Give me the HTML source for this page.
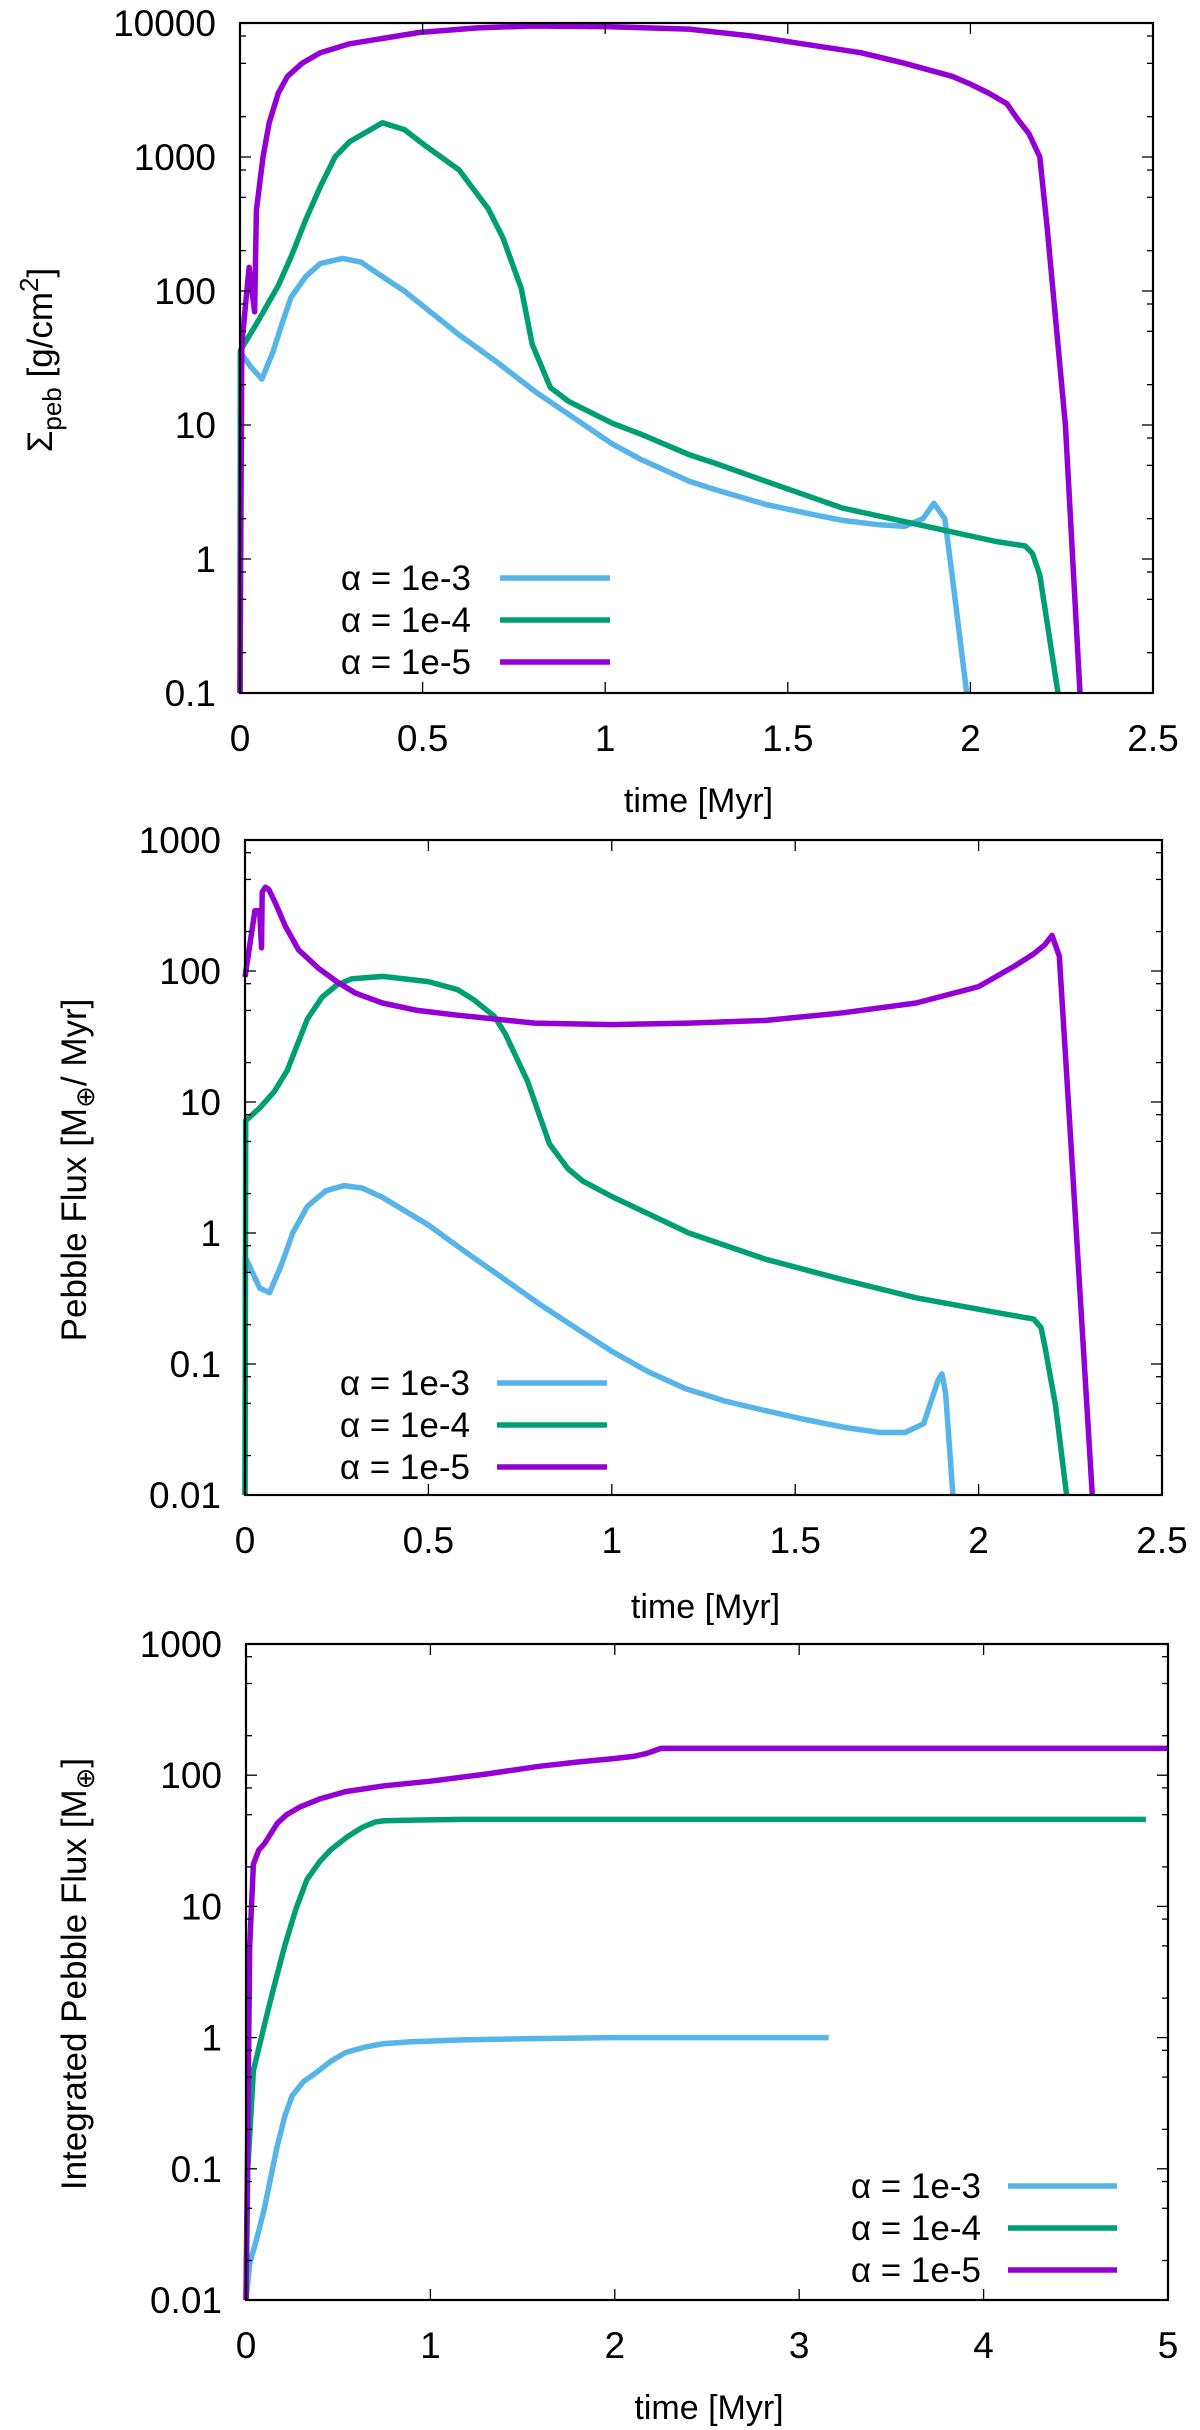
<!DOCTYPE html>
<html><head><meta charset="utf-8"><style>
html,body{margin:0;padding:0;background:#fff;}
svg{display:block;font-family:"Liberation Sans",Arial,sans-serif;}
</style></head><body>
<svg id="fig" width="1200" height="2430" viewBox="0 0 1200 2430" xmlns="http://www.w3.org/2000/svg"></svg>
<script>
// ---------- Data (time in Myr, values) ----------
// Panel 1: surface density Sigma_peb [g/cm^2]
const p1_t_a3 = [0,0.001,0.03,0.06,0.09,0.115,0.14,0.18,0.22,0.28,0.33,0.39,0.45,0.6,0.7,0.81,0.9,1.02,1.1,1.23,1.3,1.44,1.55,1.65,1.75,1.82,1.87,1.9,1.93,1.95,1.99];
const p1_v_a3 = [0.1,35,27,22,35,57,90,128,160,175,165,128,100,47,30,17.6,12,7.2,5.5,3.8,3.3,2.55,2.2,1.94,1.8,1.75,2.0,2.6,2.0,0.76,0.1];
const p1_t_a4 = [0,0.001,0.05,0.105,0.14,0.18,0.22,0.26,0.3,0.39,0.45,0.51,0.6,0.68,0.72,0.77,0.8,0.85,0.9,1.02,1.1,1.23,1.3,1.44,1.65,1.86,2.07,2.15,2.17,2.19,2.24];
const p1_v_a4 = [0.1,36,60,110,180,340,600,1000,1300,1800,1600,1200,800,410,250,105,40,19,15,10.3,8.5,6,5.2,3.8,2.4,1.8,1.35,1.25,1.1,0.76,0.1];
const p1_t_a5 = [0,0.005,0.025,0.04,0.045,0.063,0.08,0.105,0.13,0.17,0.22,0.3,0.49,0.65,0.8,1.0,1.23,1.4,1.54,1.7,1.82,1.95,2.0,2.05,2.1,2.13,2.16,2.19,2.21,2.26,2.3];
const p1_v_a5 = [0.1,40,150,70,400,1000,1800,3000,4000,5000,6000,7000,8500,9200,9500,9400,9000,8000,7000,6000,5000,4000,3500,3000,2500,1900,1500,1000,300,10,0.1];
// Panel 2: pebble flux [M_earth/Myr]
const p2_t_a3 = [0,0.001,0.04,0.067,0.1,0.13,0.17,0.22,0.27,0.32,0.375,0.5,0.6,0.69,0.8,0.9,1.0,1.1,1.2,1.31,1.42,1.52,1.63,1.73,1.8,1.85,1.89,1.9,1.91,1.93];
const p2_v_a3 = [0.01,0.65,0.38,0.35,0.58,1.0,1.6,2.1,2.3,2.2,1.87,1.15,0.72,0.48,0.29,0.19,0.125,0.087,0.065,0.052,0.044,0.038,0.033,0.030,0.030,0.035,0.076,0.084,0.06,0.01];
const p2_t_a4 = [0,0.002,0.04,0.08,0.115,0.17,0.21,0.25,0.29,0.375,0.5,0.58,0.625,0.68,0.71,0.77,0.83,0.88,0.92,1.0,1.1,1.21,1.42,1.63,1.83,2.04,2.15,2.17,2.18,2.21,2.24];
const p2_v_a4 = [0.01,7.2,9,12,17.4,43,63,78,87,91,83,72,60,45,33,14.5,4.8,3.1,2.5,1.9,1.4,1.0,0.63,0.44,0.32,0.25,0.22,0.19,0.14,0.048,0.01];
const p2_t_a5 = [0,0.027,0.04,0.045,0.047,0.056,0.065,0.083,0.11,0.146,0.2,0.25,0.3,0.375,0.47,0.58,0.79,1.0,1.21,1.42,1.63,1.83,2.0,2.1,2.15,2.18,2.2,2.22,2.25,2.31];
const p2_v_a5 = [90,288,288,150,400,436,420,330,220,145,105,83,68,57,50,46,40,39,40,42,48,57,76,110,135,158,187,130,5.8,0.01];
// Panel 3: integrated pebble flux [M_earth]
const p3_t_a3 = [0,0.02,0.06,0.1,0.17,0.21,0.25,0.31,0.38,0.46,0.54,0.65,0.75,0.9,1.17,1.5,2.0,3.16];
const p3_v_a3 = [0.01,0.019,0.03,0.05,0.15,0.25,0.36,0.46,0.54,0.66,0.77,0.85,0.9,0.93,0.96,0.98,1.0,1.0];
const p3_t_a4 = [0,0.01,0.04,0.1,0.15,0.21,0.27,0.33,0.4,0.46,0.55,0.63,0.7,0.75,0.9,1.17,4.88];
const p3_v_a4 = [0.01,0.1,0.56,1.25,2.4,5,9.5,16,22,27,34,40,44,45,45.5,46,46];
const p3_t_a5 = [0,0.02,0.04,0.07,0.1,0.17,0.22,0.29,0.4,0.54,0.75,1.0,1.3,1.59,1.8,2.0,2.1,2.17,2.25,5.0];
const p3_v_a5 = [0.01,5,21,27,30,43,50,57,66,75,83,90,102,117,126,134,139,146,160,160];
// Tick labels
const p1_xticks = ["0","0.5","1","1.5","2","2.5"];
const p1_yticks = ["0.1","1","10","100","1000","10000"];
const p2_xticks = ["0","0.5","1","1.5","2","2.5"];
const p2_yticks = ["0.01","0.1","1","10","100","1000"];
const p3_xticks = ["0","1","2","3","4","5"];
const p3_yticks = ["0.01","0.1","1","10","100","1000"];
const legendLabels = ["α = 1e-3","α = 1e-4","α = 1e-5"];
const seriesNames = ["alpha-1e-3","alpha-1e-4","alpha-1e-5"];

const COLORS = ["#56b4e9","#009e73","#9400d3"];
const NS = "http://www.w3.org/2000/svg";
const svg = document.getElementById("fig");
function mk(tag, attrs, parent){
  const e = document.createElementNS(NS, tag);
  for (const k in attrs) e.setAttribute(k, attrs[k]);
  (parent||svg).appendChild(e); return e;
}

const panels = [
  {id:"surface-density", L:240,R:1153,T:23,B:693, xmax:2.5, xstep:0.5, lo:-1, hi:4, xt:p1_xticks, yt:p1_yticks,
   series:[[p1_t_a3,p1_v_a3],[p1_t_a4,p1_v_a4],[p1_t_a5,p1_v_a5]],
   leg:{tx:471, lx1:500, lx2:610, y0:578, dy:42}, xlabY:800, ylab:{x:52,y:360}, ylabType:1},
  {id:"pebble-flux", L:245,R:1162,T:840,B:1495, xmax:2.5, xstep:0.5, lo:-2, hi:3, xt:p2_xticks, yt:p2_yticks,
   series:[[p2_t_a3,p2_v_a3],[p2_t_a4,p2_v_a4],[p2_t_a5,p2_v_a5]],
   leg:{tx:470, lx1:497, lx2:607, y0:1383, dy:42}, xlabY:1606, ylab:{x:86,y:1170}, ylabType:2},
  {id:"integrated-pebble-flux", L:246,R:1168,T:1644,B:2300, xmax:5, xstep:1, lo:-2, hi:3, xt:p3_xticks, yt:p3_yticks,
   series:[[p3_t_a3,p3_v_a3],[p3_t_a4,p3_v_a4],[p3_t_a5,p3_v_a5]],
   leg:{tx:981, lx1:1008, lx2:1117, y0:2186, dy:42}, xlabY:2407, ylab:{x:86,y:1974}, ylabType:3}
];

panels.forEach(function(p){
  const g = mk("g",{});
  
  
  const xs = function(t){ return p.L + t/p.xmax*(p.R-p.L); };
  const ys = function(v){ return p.B - (Math.log10(v)-p.lo)/(p.hi-p.lo)*(p.B-p.T); };
  p.series.forEach(function(s, i){
    let d = "";
    for (let k=0;k<s[0].length;k++){
      const v = Math.max(s[1][k], Math.pow(10,p.lo));
      d += (k?"L":"M")+xs(s[0][k]).toFixed(1)+","+ys(v).toFixed(1);
    }
    const path = mk("path",{d:d, fill:"none", stroke:COLORS[i], "stroke-width":5.5, "stroke-linejoin":"round","stroke-linecap":"butt"}, g);
    
    
  });
  const tg = mk("g",{stroke:"#000","stroke-width":1.3}, g);
  
  
  for (let i=0;i<p.xt.length;i++){
    const x = xs(i*p.xstep);
    mk("line",{x1:x,y1:p.B,x2:x,y2:p.B-11},tg);
    mk("line",{x1:x,y1:p.T,x2:x,y2:p.T+11},tg);
    const tx = mk("text",{x:x,y:p.B+58,"text-anchor":"middle","font-size":37,fill:"#000",stroke:"none"}, g);
    tx.textContent = p.xt[i];
    
    
  }
  for (let e=p.lo;e<=p.hi;e++){
    const y = ys(Math.pow(10,e));
    mk("line",{x1:p.L,y1:y,x2:p.L+11,y2:y},tg);
    mk("line",{x1:p.R,y1:y,x2:p.R-11,y2:y},tg);
    const ty = mk("text",{x:p.L-24,y:y+13,"text-anchor":"end","font-size":37,fill:"#000",stroke:"none"}, g);
    ty.textContent = p.yt[e-p.lo];
    
    
    if (e<p.hi){
      [2,5,8].forEach(function(m){
        const ym = ys(m*Math.pow(10,e));
        mk("line",{x1:p.L,y1:ym,x2:p.L+6,y2:ym},tg);
        mk("line",{x1:p.R,y1:ym,x2:p.R-6,y2:ym},tg);
      });
    }
  }
  const fr = mk("rect",{x:p.L,y:p.T,width:p.R-p.L,height:p.B-p.T,fill:"none",stroke:"#000","stroke-width":2.2}, g);
  
  
  for (let i=0;i<3;i++){
    const y = p.leg.y0 + i*p.leg.dy;
    const lt = mk("text",{x:p.leg.tx,y:y+12,"text-anchor":"end","font-size":35,fill:"#000"}, g);
    lt.textContent = legendLabels[i];
    
    
    const ll = mk("line",{x1:p.leg.lx1,y1:y,x2:p.leg.lx2,y2:y,stroke:COLORS[i],"stroke-width":5.5}, g);
    
    
  }
  const xl = mk("text",{x:(p.L+p.R)/2+2,y:p.xlabY+12,"text-anchor":"middle","font-size":34,fill:"#000"}, g);
  xl.textContent = "time [Myr]";
  
  
  const yl = mk("text",{x:0,y:0,"text-anchor":"middle","font-size":35,fill:"#000",transform:"translate("+p.ylab.x+","+p.ylab.y+") rotate(-90)"}, g);
  
  
  if (p.ylabType===1){
    yl.innerHTML = 'Σ<tspan font-size="26" dy="9">peb</tspan><tspan dy="-9"> [g/cm</tspan><tspan font-size="26" dy="-14">2</tspan><tspan dy="14">]</tspan>';
  } else if (p.ylabType===2){
    yl.innerHTML = 'Pebble Flux [M<tspan font-size="26" dy="8">⊕</tspan><tspan dy="-8">/ Myr]</tspan>';
  } else {
    yl.innerHTML = 'Integrated Pebble Flux [M<tspan font-size="26" dy="8">⊕</tspan><tspan dy="-8">]</tspan>';
  }
});
</script>
</body></html>
